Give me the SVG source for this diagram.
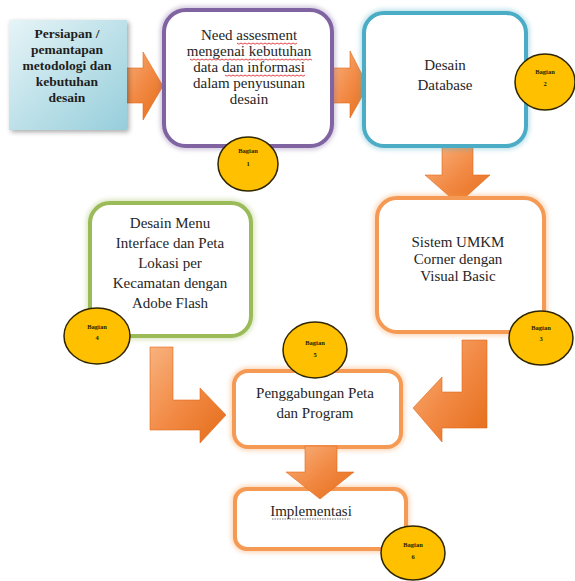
<svg xmlns="http://www.w3.org/2000/svg" width="575" height="581" viewBox="0 0 575 581">
<style>
.t{font-family:"Liberation Serif","Times New Roman",serif;font-size:15px;fill:#262626;text-anchor:middle}
.tb{font-family:"Liberation Serif","Times New Roman",serif;font-size:13.5px;font-weight:bold;fill:#1e1e1e;text-anchor:middle}
.bt{font-family:"Liberation Serif","Times New Roman",serif;font-size:6.5px;font-weight:bold;fill:#2a2200;text-anchor:middle}
.badge{fill:#ffc000;stroke:#2f2600;stroke-width:1.5}
.box{fill:#ffffff}
.glow{fill:none;stroke-width:8;opacity:0.35}
.arrow{fill:url(#ag);stroke:#e06a1a;stroke-width:0.6}
.sq{fill:none;stroke:#e0303a;stroke-width:0.9}
</style>
<defs>
<linearGradient id="ag" x1="0" y1="0" x2="1" y2="1">
<stop offset="0" stop-color="#f8b27e"/>
<stop offset="0.5" stop-color="#f28a45"/>
<stop offset="1" stop-color="#e46c18"/>
</linearGradient>
<linearGradient id="bg1" x1="0" y1="0" x2="1" y2="1">
<stop offset="0" stop-color="#e6f4f7"/>
<stop offset="1" stop-color="#96cedb"/>
</linearGradient>
<filter id="sh" x="-20%" y="-20%" width="140%" height="140%">
<feGaussianBlur in="SourceAlpha" stdDeviation="2.5"/>
<feOffset dx="2" dy="2" result="b"/>
<feComponentTransfer><feFuncA type="linear" slope="0.35"/></feComponentTransfer>
<feMerge><feMergeNode/><feMergeNode in="SourceGraphic"/></feMerge>
</filter>
<filter id="soft" x="-20%" y="-20%" width="140%" height="140%">
<feGaussianBlur stdDeviation="2"/>
</filter>
</defs>
<rect width="575" height="581" fill="#ffffff"/>

<g id="connectors">
<polygon class="arrow" points="120,68 143,68 143,52 163,86 143,120 143,103 120,103"/>
<polygon class="arrow" points="333,68 350,68 350,51 368,86 350,118 350,103 333,103"/>
<polygon class="arrow" points="442,147 473,147 473,175 490,175 458,204 425,175 442,175"/>
<polygon class="arrow" points="462,340 487,340 487,428 442,428 442,442 413,408 442,377 442,392 462,392"/>
<polygon class="arrow" points="150,347 173,347 173,400 200,400 200,388 226,415 200,443 200,430 150,430"/>
</g>

<g id="node-persiapan">
<rect x="9" y="20" width="118" height="110" fill="url(#bg1)" filter="url(#sh)"/>
<text class="tb" x="67" y="38">Persiapan /</text>
<text class="tb" x="67" y="54">pemantapan</text>
<text class="tb" x="67" y="70">metodologi dan</text>
<text class="tb" x="67" y="86">kebutuhan</text>
<text class="tb" x="67" y="102">desain</text>
</g>

<g id="node-need">
<rect x="164" y="10" width="168" height="136" rx="22" fill="none" stroke="#8064a2" class="glow" filter="url(#soft)"/>
<rect x="164" y="10" width="168" height="136" rx="22" class="box" stroke="#8064a2" stroke-width="4"/>
<text class="t" x="249" y="40">Need assesment</text>
<text class="t" x="249" y="56">mengenai kebutuhan</text>
<text class="t" x="249" y="72">data dan informasi</text>
<text class="t" x="249" y="88">dalam penyusunan</text>
<text class="t" x="249" y="104">desain</text>
<path class="sq" d="M237,43 l2,1.2 2,-1.2 2,1.2 2,-1.2 2,1.2 2,-1.2 2,1.2 2,-1.2 2,1.2 2,-1.2 2,1.2 2,-1.2 2,1.2 2,-1.2 2,1.2 2,-1.2 2,1.2 2,-1.2 2,1.2 2,-1.2 2,1.2 2,-1.2 2,1.2 2,-1.2 2,1.2 2,-1.2 2,1.2 2,-1.2 2,1.2 2,-1.2"/>
<path class="sq" d="M190,59 l2,1.2 2,-1.2 2,1.2 2,-1.2 2,1.2 2,-1.2 2,1.2 2,-1.2 2,1.2 2,-1.2 2,1.2 2,-1.2 2,1.2 2,-1.2 2,1.2 2,-1.2 2,1.2 2,-1.2 2,1.2 2,-1.2 2,1.2 2,-1.2 2,1.2 2,-1.2 2,1.2 2,-1.2 2,1.2 2,-1.2 2,1.2 2,-1.2 2,1.2 2,-1.2 2,1.2 2,-1.2 2,1.2 2,-1.2 2,1.2 2,-1.2 2,1.2 2,-1.2 2,1.2 2,-1.2 2,1.2 2,-1.2 2,1.2 2,-1.2 2,1.2 2,-1.2 2,1.2 2,-1.2 2,1.2 2,-1.2 2,1.2 2,-1.2 2,1.2 2,-1.2 2,1.2 2,-1.2 2,1.2 2,-1.2 2,1.2"/>
<path class="sq" d="M225,75 l2,1.2 2,-1.2 2,1.2 2,-1.2 2,1.2 2,-1.2 2,1.2 2,-1.2 2,1.2 2,-1.2 2,1.2 2,-1.2 2,1.2 2,-1.2 2,1.2 2,-1.2 2,1.2 2,-1.2 2,1.2 2,-1.2 2,1.2 2,-1.2 2,1.2 2,-1.2 2,1.2 2,-1.2 2,1.2 2,-1.2 2,1.2 2,-1.2 2,1.2 2,-1.2 2,1.2 2,-1.2 2,1.2 2,-1.2 2,1.2 2,-1.2 2,1.2 2,-1.2"/>
</g>

<g id="node-database">
<rect x="364" y="13" width="162" height="133" rx="20" fill="none" stroke="#4bacc6" class="glow" filter="url(#soft)"/>
<rect x="364" y="13" width="162" height="133" rx="20" class="box" stroke="#4bacc6" stroke-width="4"/>
<text class="t" x="445" y="70">Desain</text>
<text class="t" x="445" y="90">Database</text>
</g>

<g id="node-umkm">
<rect x="377" y="198" width="167" height="134" rx="20" fill="none" stroke="#f79646" class="glow" filter="url(#soft)"/>
<rect x="377" y="198" width="167" height="134" rx="20" class="box" stroke="#f59a55" stroke-width="4"/>
<text class="t" x="458" y="247">Sistem UMKM</text>
<text class="t" x="458" y="264">Corner dengan</text>
<text class="t" x="458" y="281">Visual Basic</text>
</g>

<g id="node-menu">
<rect x="90" y="203" width="161" height="133" rx="20" fill="none" stroke="#9bbb59" class="glow" filter="url(#soft)"/>
<rect x="90" y="203" width="161" height="133" rx="20" class="box" stroke="#9bbb59" stroke-width="4"/>
<text class="t" x="170" y="228">Desain Menu</text>
<text class="t" x="170" y="248">Interface dan Peta</text>
<text class="t" x="170" y="268">Lokasi per</text>
<text class="t" x="170" y="288">Kecamatan dengan</text>
<text class="t" x="170" y="308">Adobe Flash</text>
</g>

<g id="node-penggabungan">
<rect x="234" y="371" width="167" height="76" rx="14" fill="none" stroke="#f79646" class="glow" filter="url(#soft)"/>
<rect x="234" y="371" width="167" height="76" rx="14" class="box" stroke="#f59a55" stroke-width="4"/>
<text class="t" x="315" y="398">Penggabungan Peta</text>
<text class="t" x="315" y="418">dan Program</text>
</g>

<g id="node-implementasi">
<rect x="235" y="489" width="171" height="60" rx="12" fill="none" stroke="#f79646" class="glow" filter="url(#soft)"/>
<rect x="235" y="489" width="171" height="60" rx="12" class="box" stroke="#f59a55" stroke-width="4"/>
<text class="t" x="311" y="516">Implementasi</text>
<line x1="272" y1="519" x2="350" y2="519" stroke="#555" stroke-width="0.8" stroke-dasharray="1.5,1"/>
</g>

<g id="connector-down-final">
<polygon class="arrow" points="305,446 337,446 337,472 354,472 320,499 286,472 305,472"/>
</g>

<g id="badge-1">
<ellipse class="badge" cx="248" cy="164" rx="30" ry="27"/>
<text class="bt" x="248" y="153">Bagian</text>
<text class="bt" x="248" y="166">1</text>
</g>
<g id="badge-2">
<ellipse class="badge" cx="545" cy="82" rx="30" ry="28"/>
<text class="bt" x="545" y="74">Bagian</text>
<text class="bt" x="545" y="86">2</text>
</g>
<g id="badge-3">
<ellipse class="badge" cx="541" cy="338" rx="32" ry="27"/>
<text class="bt" x="541" y="330">Bagian</text>
<text class="bt" x="541" y="341">3</text>
</g>
<g id="badge-4">
<ellipse class="badge" cx="97" cy="336" rx="33" ry="28"/>
<text class="bt" x="97" y="329">Bagian</text>
<text class="bt" x="97" y="340">4</text>
</g>
<g id="badge-5">
<ellipse class="badge" cx="315" cy="350" rx="32" ry="28"/>
<text class="bt" x="315" y="345">Bagian</text>
<text class="bt" x="315" y="357">5</text>
</g>
<g id="badge-6">
<ellipse class="badge" cx="413" cy="553" rx="32" ry="27"/>
<text class="bt" x="413" y="547">Bagian</text>
<text class="bt" x="413" y="559">6</text>
</g>
</svg>
